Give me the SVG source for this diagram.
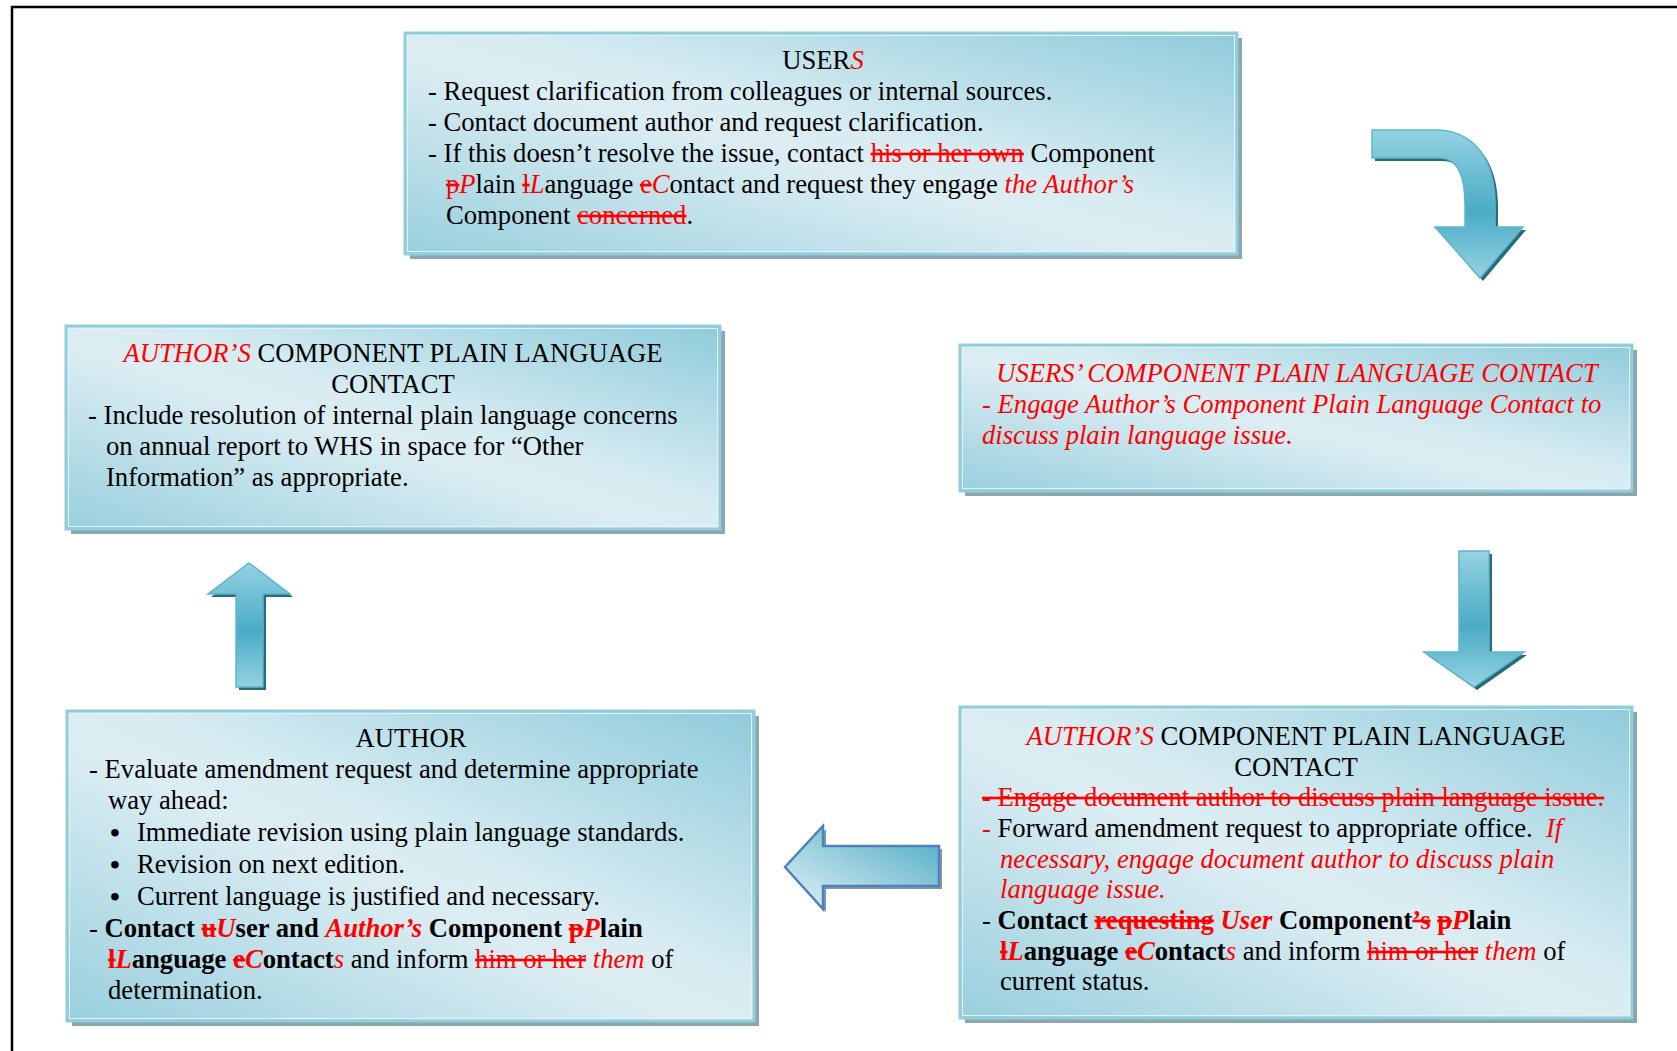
<svg xmlns="http://www.w3.org/2000/svg" width="1677" height="1051" viewBox="0 0 1677 1051">
<defs>
<linearGradient id="boxGrad" x1="1" y1="0" x2="0" y2="1">
<stop offset="0" stop-color="#8fcbdb"/>
<stop offset="0.45" stop-color="#d8ecf2"/>
<stop offset="0.55" stop-color="#dcedf3"/>
<stop offset="1" stop-color="#98cfdd"/>
</linearGradient>
<linearGradient id="arrV" x1="0" y1="0" x2="0" y2="1">
<stop offset="0" stop-color="#95d2e2"/>
<stop offset="0.55" stop-color="#4aabc5"/>
<stop offset="1" stop-color="#95d2e2"/>
</linearGradient>
<linearGradient id="arrL" x1="0" y1="1" x2="1" y2="0">
<stop offset="0" stop-color="#e4f2f6"/>
<stop offset="1" stop-color="#4aaac4"/>
</linearGradient>
<style>
text { font-family: "Liberation Serif", "Times New Roman", serif; font-size: 26.65px; fill: #000; }
.r { fill: #ff0000; }
.i { font-style: italic; }
.b { font-weight: bold; }
.del { fill: #ff0000; text-decoration: line-through; }
.bul { font-size: 28px; font-weight: bold; }
.box { fill: url(#boxGrad); stroke: #92cddc; stroke-width: 3; }
.inner { fill: none; stroke: #e2f2f7; stroke-width: 1; }
.shadow { fill: #8ba7ae; }
.arr { fill: url(#arrV); stroke: #5bb7cf; stroke-width: 1.5; }
.arrsh { fill: #2b6b78; }
</style>
</defs>
<rect width="1677" height="1051" fill="#ffffff"/>
<path d="M12,1051 V7 H1677" fill="none" stroke="#000" stroke-width="2.5"/>

<g id="connectors">
<g id="arrow-curved">
<path class="arrsh" transform="translate(3,3)" d="M1372,130 L1435,130 C1475,130 1495,160 1495,205 L1495,227 L1523,227 L1480,278 L1435,227 L1465,227 L1465,205 C1465,175 1458,158 1440,158 L1372,158 Z"/>
<path class="arr" d="M1372,130 L1435,130 C1475,130 1495,160 1495,205 L1495,227 L1523,227 L1480,278 L1435,227 L1465,227 L1465,205 C1465,175 1458,158 1440,158 L1372,158 Z"/>
</g>
<g id="arrow-down">
<path class="arrsh" transform="translate(3,3)" d="M1459,551 L1489,551 L1489,652 L1524,652 L1474,687 L1424,652 L1459,652 Z"/>
<path class="arr" d="M1459,551 L1489,551 L1489,652 L1524,652 L1474,687 L1424,652 L1459,652 Z"/>
</g>
<g id="arrow-left">
<path fill="#7f9aa2" transform="translate(3,3)" d="M785,867 L823,826 L823,846 L939,846 L939,886 L823,886 L823,909 Z"/>
<path fill="url(#arrL)" stroke="#4f81bd" stroke-width="2.5" stroke-linejoin="miter" d="M785,867 L823,826 L823,846 L939,846 L939,886 L823,886 L823,909 Z"/>
</g>
<g id="arrow-up">
<path class="arrsh" transform="translate(3,3)" d="M249,563 L290,594 L263,594 L263,687 L236,687 L236,594 L208,594 Z"/>
<path class="arr" d="M249,563 L290,594 L263,594 L263,687 L236,687 L236,594 L208,594 Z"/>
</g>
</g>

<g id="node-users">
<rect class="shadow" x="410" y="38" width="832" height="221"/>
<rect class="box" x="405" y="33" width="832" height="221"/>
<rect class="inner" x="407.5" y="35.5" width="827" height="216"/>
<text x="823" y="69" text-anchor="middle">USER<tspan class="r i">S</tspan></text>
<text x="428" y="100">- Request clarification from colleagues or internal sources.</text>
<text x="428" y="131">- Contact document author and request clarification.</text>
<text x="428" y="162">- If this doesn’t resolve the issue, contact <tspan class="del">his or her own</tspan> Component</text>
<text x="446" y="193"><tspan class="del">p</tspan><tspan class="r i">P</tspan>lain <tspan class="del">l</tspan><tspan class="r i">L</tspan>anguage <tspan class="del">e</tspan><tspan class="r i">C</tspan>ontact and request they engage <tspan class="r i">the Author’s</tspan></text>
<text x="446" y="224">Component <tspan class="del">concerned</tspan>.</text>
</g>

<g id="node-users-cplc">
<rect class="shadow" x="965" y="350" width="672" height="146"/>
<rect class="box" x="960" y="345" width="672" height="146"/>
<rect class="inner" x="962.5" y="347.5" width="667" height="141"/>
<text x="1297" y="382" text-anchor="middle" class="r i">USERS’ COMPONENT PLAIN LANGUAGE CONTACT</text>
<text x="982" y="413" class="r i">- Engage Author’s Component Plain Language Contact to</text>
<text x="982" y="444" class="r i">discuss plain language issue.</text>
</g>

<g id="node-authors-cplc-forward">
<rect class="shadow" x="965" y="712" width="672" height="311"/>
<rect class="box" x="960" y="707" width="672" height="311"/>
<rect class="inner" x="962.5" y="709.5" width="667" height="306"/>
<text x="1296" y="745" text-anchor="middle"><tspan class="r i">AUTHOR’S</tspan> COMPONENT PLAIN LANGUAGE</text>
<text x="1296" y="776" text-anchor="middle">CONTACT</text>
<text x="982" y="806" class="del">- Engage document author to discuss plain language issue.</text>
<text x="982" y="837"><tspan class="r">-</tspan> Forward amendment request to appropriate office.&#160; <tspan class="r i">If</tspan></text>
<text x="1000" y="868" class="r i">necessary, engage document author to discuss plain</text>
<text x="1000" y="898" class="r i">language issue.</text>
<text x="982" y="929">- <tspan class="b">Contact</tspan> <tspan class="b del">requesting</tspan> <tspan class="b r i">User</tspan> <tspan class="b">Component</tspan><tspan class="b del">’s</tspan> <tspan class="b del">p</tspan><tspan class="b r i">P</tspan><tspan class="b">lain</tspan></text>
<text x="1000" y="960"><tspan class="b del">l</tspan><tspan class="b r i">L</tspan><tspan class="b">anguage</tspan> <tspan class="b del">e</tspan><tspan class="b r i">C</tspan><tspan class="b">ontact</tspan><tspan class="r i">s</tspan> and inform <tspan class="del">him or her</tspan> <tspan class="r i">them</tspan> of</text>
<text x="1000" y="990">current status.</text>
</g>

<g id="node-author">
<rect class="shadow" x="72" y="716" width="687" height="310"/>
<rect class="box" x="67" y="711" width="687" height="310"/>
<rect class="inner" x="69.5" y="713.5" width="682" height="305"/>
<text x="411" y="747" text-anchor="middle">AUTHOR</text>
<text x="89" y="778">- Evaluate amendment request and determine appropriate</text>
<text x="108" y="809">way ahead:</text>
<text x="110" y="842" class="bul">•</text><text x="137" y="841">Immediate revision using plain language standards.</text>
<text x="110" y="874" class="bul">•</text><text x="137" y="873">Revision on next edition.</text>
<text x="110" y="906" class="bul">•</text><text x="137" y="905">Current language is justified and necessary.</text>
<text x="89" y="937">- <tspan class="b">Contact</tspan> <tspan class="b del">u</tspan><tspan class="b r i">U</tspan><tspan class="b">ser and</tspan> <tspan class="b r i">Author’s</tspan> <tspan class="b">Component</tspan> <tspan class="b del">p</tspan><tspan class="b r i">P</tspan><tspan class="b">lain</tspan></text>
<text x="108" y="968"><tspan class="b del">l</tspan><tspan class="b r i">L</tspan><tspan class="b">anguage</tspan> <tspan class="b del">e</tspan><tspan class="b r i">C</tspan><tspan class="b">ontact</tspan><tspan class="r i">s</tspan> and inform <tspan class="del">him or her</tspan> <tspan class="r i">them</tspan> of</text>
<text x="108" y="999">determination.</text>
</g>

<g id="node-authors-cplc-report">
<rect class="shadow" x="71" y="331" width="654" height="203"/>
<rect class="box" x="66" y="326" width="654" height="203"/>
<rect class="inner" x="68.5" y="328.5" width="649" height="198"/>
<text x="393" y="362" text-anchor="middle"><tspan class="r i">AUTHOR’S</tspan> COMPONENT PLAIN LANGUAGE</text>
<text x="393" y="393" text-anchor="middle">CONTACT</text>
<text x="88" y="424">- Include resolution of internal plain language concerns</text>
<text x="106" y="455">on annual report to WHS in space for “Other</text>
<text x="106" y="486">Information” as appropriate.</text>
</g>
</svg>
